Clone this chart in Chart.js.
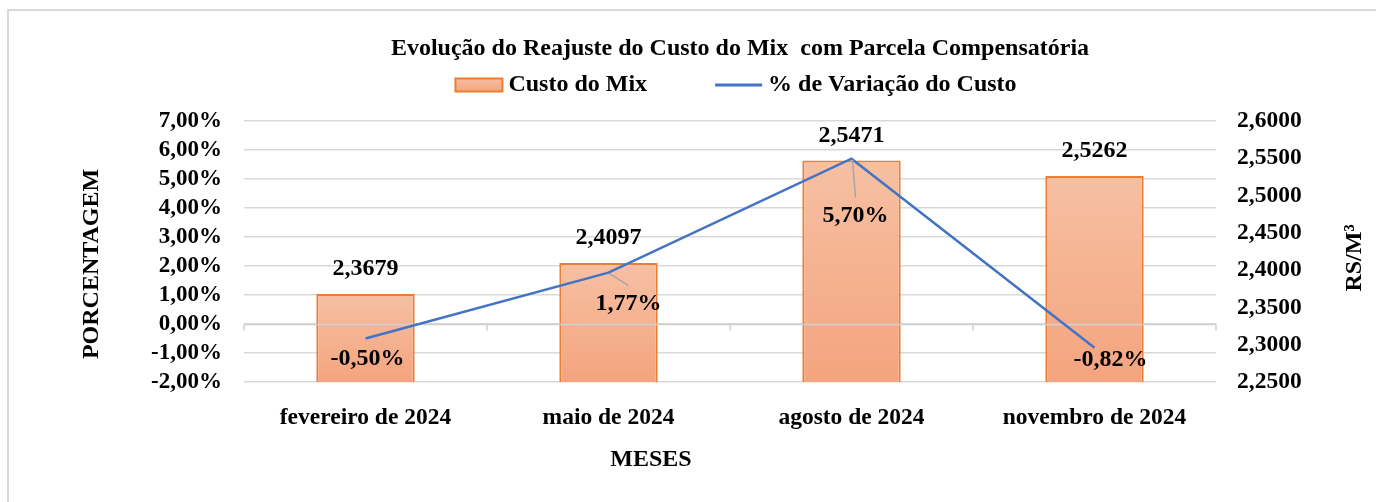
<!DOCTYPE html>
<html>
<head>
<meta charset="utf-8">
<script src="https://cdn.jsdelivr.net/npm/chart.js@4.4.1/dist/chart.umd.min.js"></script>
<style>
    html, body { margin: 0; padding: 0; background: #fff; overflow: hidden; }
    #frame { position: absolute; left: 7px; top: 9px; width: 1500px; height: 600px; border: 2px solid #d9d9d9; }
    #wrap { position: absolute; left: 0; top: 0; width: 1376px; height: 502px; }
</style>
</head>
<body>
<div id="frame"></div>
<div id="wrap"><canvas id="myChart" width="1376" height="502"></canvas></div>
<script>
const months = ['fevereiro de 2024', 'maio de 2024', 'agosto de 2024', 'novembro de 2024'];
const mixCost = [2.3679, 2.4097, 2.5471, 2.5262];          // R$/m³, right axis
const costVariation = [-0.50, 1.77, 5.70, -0.82];          // %, left axis
const percentTicks = { min: -2, max: 7, step: 1 };
const costTicks = { min: 2.25, max: 2.6, step: 0.05 };
const seriesNames = ['Custo do Mix', '% de Variação do Custo'];
const chartTitle = 'Evolução do Reajuste do Custo do Mix  com Parcela Compensatória';

// where the % labels sit relative to their point (px)
const pctLabelNudge = [[2, 20], [20, 31], [4, 57], [16, 12]];

const FONT = "'Liberation Serif', 'Times New Roman', serif";
const comma = (v, d) => v.toFixed(d).replace('.', ',');

Chart.defaults.font.family = FONT;
Chart.defaults.font.weight = 'bold';
Chart.defaults.color = '#000';

function barFill(c) {
    const s = c.chart.scales.yCost;
    if (!s || c.type !== 'data') return '#F5B396';
    const top = s.getPixelForValue(c.raw);
    const bottom = s.getPixelForValue(costTicks.min);
    if (!isFinite(top) || !isFinite(bottom)) return '#F5B396';
    const g = c.chart.ctx.createLinearGradient(0, top, 0, bottom);
    g.addColorStop(0, '#F6C0A3');
    g.addColorStop(1, '#F4A47E');
    return g;
}

const decor = {
    id: 'decor',
    afterDatasetDraw(chart, args) {
        // Excel draws the category axis at 0 % on top of the bars
        if (args.meta.type !== 'bar') return;
        const { ctx } = chart;
        const x = chart.scales.x, y = chart.scales.yPct;
        const y0 = Math.round(y.getPixelForValue(0)) + 0.5;
        ctx.save();
        ctx.strokeStyle = '#d0d0d0';
        ctx.lineWidth = 1.5;
        ctx.beginPath();
        ctx.moveTo(x.left, y0);
        ctx.lineTo(x.right, y0);
        const step = (x.right - x.left) / months.length;
        for (let i = 0; i <= months.length; i++) {
            const px = x.left + i * step;
            ctx.moveTo(px, y0);
            ctx.lineTo(px, y0 + 6);
        }
        ctx.stroke();
        ctx.restore();
    },
    afterDatasetsDraw(chart) {
        const { ctx } = chart;
        ctx.save();
        ctx.fillStyle = '#000';
        ctx.textAlign = 'center';
        ctx.textBaseline = 'middle';
        ctx.font = 'bold 24px ' + FONT;
        chart.getDatasetMeta(0).data.forEach((bar, i) => {
            ctx.fillText(comma(mixCost[i], 4), bar.x, bar.y - 25);
        });
        chart.getDatasetMeta(1).data.forEach((pt, i) => {
            const [dx, dy] = pctLabelNudge[i];
            const lx = pt.x + dx, ly = pt.y + dy;
            if (dy > 25) {
                ctx.strokeStyle = '#a6a6a6';
                ctx.lineWidth = 1.5;
                ctx.beginPath();
                ctx.moveTo(pt.x + 1, pt.y + 1);
                ctx.lineTo(lx, ly - 18);
                ctx.stroke();
            }
            ctx.fillText(comma(costVariation[i], 2) + '%', lx, ly);
        });
        ctx.restore();
    },
    afterDraw(chart) {
        const { ctx } = chart;
        ctx.save();
        ctx.fillStyle = '#000';
        ctx.textBaseline = 'middle';
        ctx.textAlign = 'center';

        ctx.font = 'bold 24px ' + FONT;
        ctx.fillText(chartTitle, 740, 49);

        // legend
        const w1 = ctx.measureText(seriesNames[0]).width;
        const w2 = ctx.measureText(seriesNames[1]).width;
        const sw = 47, gap = 6, between = 68, ly = 85;
        let lx = 736 - (sw + gap + w1 + between + sw + gap + w2) / 2;
        const g = ctx.createLinearGradient(0, ly - 7, 0, ly + 7);
        g.addColorStop(0, '#F6C0A3');
        g.addColorStop(1, '#F4A47E');
        ctx.fillStyle = g;
        ctx.fillRect(lx, ly - 6.5, sw, 13);
        ctx.strokeStyle = '#ED7D31';
        ctx.lineWidth = 2;
        ctx.strokeRect(lx, ly - 6.5, sw, 13);
        ctx.fillStyle = '#000';
        ctx.textAlign = 'left';
        ctx.fillText(seriesNames[0], lx + sw + gap, ly);
        lx += sw + gap + w1 + between;
        ctx.strokeStyle = '#4472C4';
        ctx.lineWidth = 3;
        ctx.beginPath();
        ctx.moveTo(lx, ly);
        ctx.lineTo(lx + sw, ly);
        ctx.stroke();
        ctx.fillText(seriesNames[1], lx + sw + gap, ly);

        // axis titles
        ctx.textAlign = 'center';
        ctx.font = 'bold 24px ' + FONT;
        ctx.fillText('MESES', 651, 460);
        ctx.translate(92, 264);
        ctx.rotate(-Math.PI / 2);
        ctx.fillText('PORCENTAGEM', 0, 0);
        ctx.setTransform(1, 0, 0, 1, 0, 0);
        ctx.translate(1355, 258);
        ctx.rotate(-Math.PI / 2);
        ctx.fillText('RS/M³', 0, 0);
        ctx.restore();
    }
};

const ctx = document.getElementById('myChart').getContext('2d');
new Chart(ctx, {
    data: {
        labels: months,
        datasets: [{
            type: 'bar',
            label: seriesNames[0],
            data: mixCost,
            yAxisID: 'yCost',
            backgroundColor: barFill,
            borderColor: '#ED7D31',
            borderWidth: 2,
            barPercentage: 0.405,
            categoryPercentage: 1,
            order: 1,
        }, {
            type: 'line',
            label: seriesNames[1],
            data: costVariation,
            yAxisID: 'yPct',
            borderColor: '#4472C4',
            borderWidth: 2.5,
            pointRadius: 0,
            tension: 0,
            order: 0,
        }]
    },
    options: {
        responsive: false,
        animation: false,
        layout: { padding: { top: 121, left: 0, right: 0, bottom: 0 } },
        scales: {
            x: {
                offset: true,
                grid: { display: false },
                border: { display: false },
                ticks: { font: { size: 23.5 }, padding: 14 },
                afterFit: s => { s.height = 120; },
            },
            yPct: {
                position: 'left',
                min: percentTicks.min,
                max: percentTicks.max,
                ticks: {
                    stepSize: percentTicks.step,
                    autoSkip: false,
                    font: { size: 23 },
                    padding: 22,
                    callback: v => comma(v, 2) + '%',
                },
                grid: { color: '#d9d9d9', lineWidth: 1.5, drawTicks: false },
                border: { display: false },
                afterFit: s => { s.width = 244; },
            },
            yCost: {
                position: 'right',
                min: costTicks.min,
                max: costTicks.max,
                ticks: {
                    stepSize: costTicks.step,
                    autoSkip: false,
                    font: { size: 23.5 },
                    padding: 21,
                    callback: v => comma(v, 4),
                },
                grid: { display: false, drawTicks: false },
                border: { display: false },
                afterFit: s => { s.width = 160; },
            }
        },
        plugins: {
            legend: { display: false },
            tooltip: { enabled: false },
        }
    },
    plugins: [decor]
});
</script>
</body>
</html>
